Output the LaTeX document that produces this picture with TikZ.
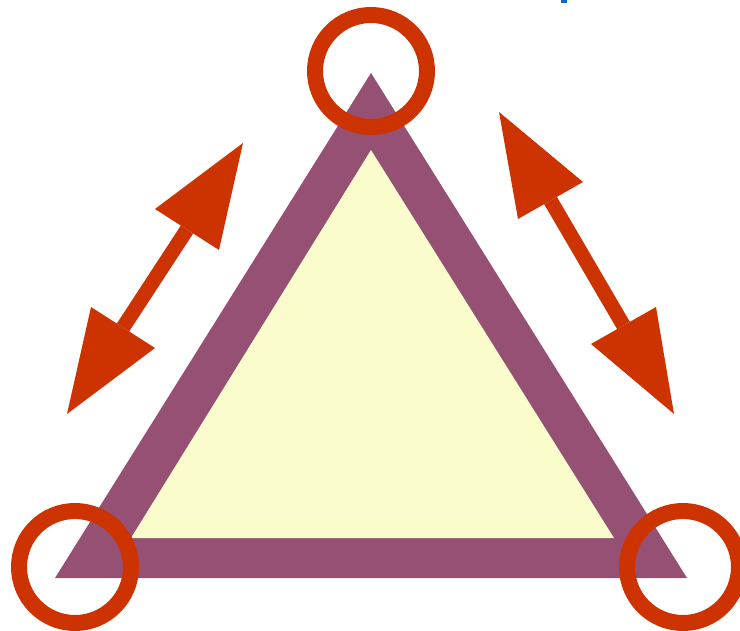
\documentclass[tikz,border=0pt]{standalone}
\definecolor{tripurple}{HTML}{955073}
\definecolor{triyellow}{HTML}{FAFDCB}
\definecolor{ringred}{HTML}{CC3300}
\definecolor{markblue}{HTML}{1166CC}
\begin{document}
\begin{tikzpicture}[x=0.75pt,y=-0.75pt,
  ring/.style={draw=ringred,line width=12pt},
  shaft/.style={draw=ringred,line width=11pt},
  head/.style={fill=ringred}]
\useasboundingbox (0,0) rectangle (740,631);
% triangle
\coordinate (A) at (371,73);
\coordinate (B) at (55,578);
\coordinate (C) at (687,578);
\fill[tripurple] (A) -- (B) -- (C) -- cycle;
\fill[triyellow] (371,150) -- (131,538) -- (614,538) -- cycle;
% rings
\draw[ring] (371,71) circle (56);
\draw[ring] (75,567) circle (56);
\draw[ring] (683,567) circle (56);
% left arrow
\coordinate (L1) at (187,229.5);
\coordinate (L2) at (123,327.5);
\draw[shaft] (L1) -- (L2);
\fill[head] (243,143) -- (155,209) -- (219,250) -- cycle;
\fill[head] (67,414) -- (91,307) -- (155,348) -- cycle;
% right arrow
\coordinate (R1) at (550.5,200.5);
\coordinate (R2) at (623.5,325.5);
\draw[shaft] (R1) -- (R2);
\fill[head] (499,112) -- (583,182) -- (518,219) -- cycle;
\fill[head] (674,414) -- (656,307) -- (591,344) -- cycle;
% small blue mark
\fill[markblue] (561,0) rectangle (567,3);
\end{tikzpicture}
\end{document}
